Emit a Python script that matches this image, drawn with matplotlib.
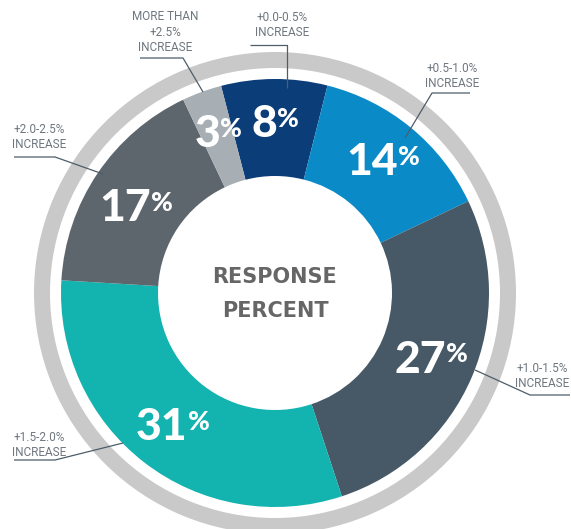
import matplotlib
matplotlib.use('Agg')
import matplotlib.pyplot as plt
import numpy as np

# data
categories = ['+0.0-0.5%\nINCREASE', '+0.5-1.0%\nINCREASE', '+1.0-1.5%\nINCREASE',
              '+1.5-2.0%\nINCREASE', '+2.0-2.5%\nINCREASE', 'MORE THAN\n+2.5%\nINCREASE']
values = [8, 14, 27, 31, 17, 3]
colors = ['#0B3D78', '#0A8BC8', '#475966', '#13B3B0', '#5E666D', '#A8AFB4']

W, H = 571, 529

def px(x, y):
    # picture pixels (y down) -> axes coords (y up)
    return x, H - y

# geometry (pixels)
cx, cy = px(275, 293)
R = 214
hole = 117
ring_in, ring_out = 225, 241
start = 104.6

# callout layout: text anchor, alignment, leader polyline
callouts = [
    ((282, 25), 'center', [(250, 45), (287, 45), (287, 88)]),
    ((452, 76), 'center', [(470, 93), (432, 93), (405, 138)]),
    ((569, 376), 'right', [(570, 395), (530, 395), (475, 370)]),
    ((12, 445), 'left', [(14, 460), (55, 460), (123, 443)]),
    ((12, 137), 'left', [(14, 157), (55, 157), (103, 174)]),
    ((165, 32), 'center', [(140, 58), (183, 58), (203, 92)]),
]

fig = plt.figure(figsize=(W / 100, H / 100), dpi=100)
ax = fig.add_axes([0, 0, 1, 1])

# outer decorative ring
ax.pie([1], colors=['#C9C9C9'], radius=ring_out, center=(cx, cy),
       wedgeprops=dict(width=ring_out - ring_in, linewidth=0), frame=True)

wedges, _ = ax.pie(values, colors=colors, radius=R, center=(cx, cy),
                   startangle=start, counterclock=False,
                   wedgeprops=dict(width=R - hole, linewidth=0), frame=True)

ax.set_xlim(0, W)
ax.set_ylim(0, H)
ax.set_aspect('equal')
ax.axis('off')

big_font = ['Lato', 'DejaVu Sans']

# percent labels inside the wedges
for w, v in zip(wedges, values):
    ang = np.deg2rad((w.theta1 + w.theta2) / 2)
    r = 0.79 * R
    x = cx + r * np.cos(ang)
    y = cy + r * np.sin(ang)
    if v == 17:
        y -= 10
    t = ax.text(x - 10, y, str(v), ha='center', va='center', fontsize=32,
                fontweight='black', color='white', family=big_font)
    ax.annotate('%', xy=(1, 1), xycoords=t, xytext=(0, -2), textcoords='offset points',
                ha='left', va='top', fontsize=19, fontweight='black', color='white',
                family=big_font)

# center title
ax.text(cx, cy + 16, 'RESPONSE', ha='center', va='center', fontsize=15,
        fontweight='bold', color='#666666')
ax.text(cx, cy - 18, 'PERCENT', ha='center', va='center', fontsize=15,
        fontweight='bold', color='#666666')

# callouts
for cat, (pos, ha, pts) in zip(categories, callouts):
    tx, ty = px(*pos)
    ax.text(tx, ty, cat, ha=ha, va='center', fontsize=8.5, color='#6E777F',
            family=['Roboto', 'DejaVu Sans'], linespacing=1.25,
            multialignment='center')
    xs = [p[0] for p in pts]
    ys = [H - p[1] for p in pts]
    ax.plot(xs, ys, color='#4D5D69', linewidth=0.9, solid_capstyle='butt')

plt.savefig('out.png', dpi=100)
plt.close()
